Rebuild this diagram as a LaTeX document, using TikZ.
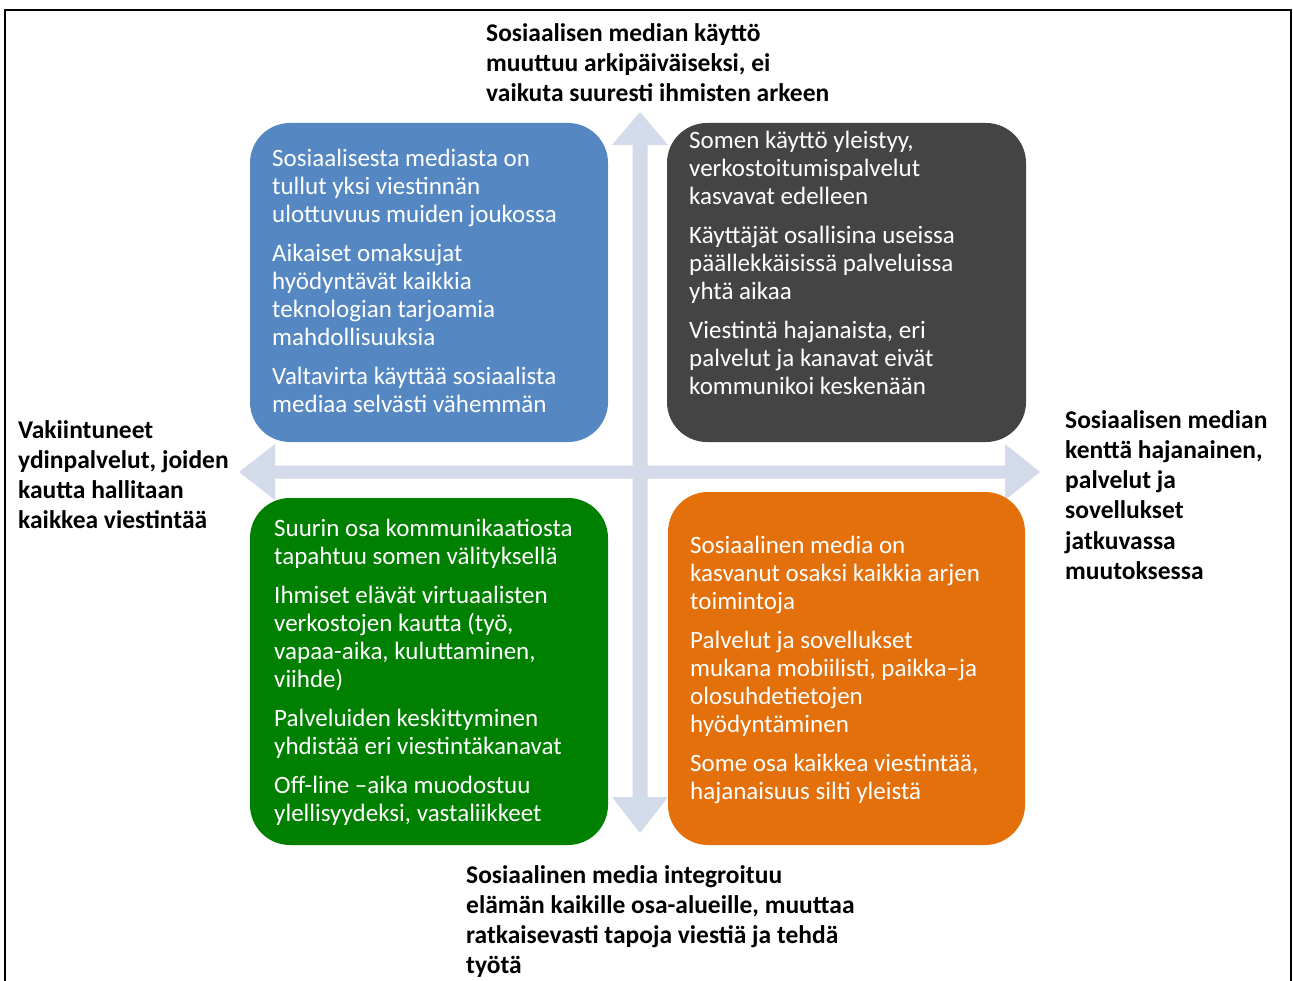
\documentclass[tikz,border=0pt]{standalone}
\usepackage{fontspec}
\setmainfont{Carlito}
\definecolor{axisblue}{RGB}{211,218,234}
\definecolor{qblue}{RGB}{85,136,194}
\definecolor{qgrey}{RGB}{68,68,68}
\definecolor{qgreen}{RGB}{0,128,0}
\definecolor{qorange}{RGB}{228,112,12}
\begin{document}
\begin{tikzpicture}[x=1pt,y=-1pt,
  quad/.style={rounded corners=40pt},
  boxtext/.style={anchor=north west, inner sep=0pt, align=left, text=white,
    font=\fontsize{25}{28}\selectfont},
  axislabel/.style={anchor=north west, inner sep=0pt, align=left,
    font=\bfseries\fontsize{25.5}{30.3}\selectfont},
  axisarrow/.style={fill=axisblue}]
\clip (0,0) rectangle (1293,981);
\fill[white] (0,0) rectangle (1293,981);
\draw[line width=2pt] (5,10) rectangle (1291,1000);
% axes
\fill[axisblue] (640,112) -- (668,145) -- (647.5,145) -- (647.5,797) -- (668,797)
  -- (640,833) -- (612,797) -- (632.5,797) -- (632.5,145) -- (612,145) -- cycle;
\fill[axisblue] (239,472) -- (275,444) -- (275,465.5) -- (1005,465.5) -- (1005,444)
  -- (1040,472) -- (1005,500) -- (1005,478.5) -- (275,478.5) -- (275,500) -- cycle;
% quadrants
\fill[qblue, quad] (250,123) rectangle (608,442);
\fill[qgrey, quad] (667,123) rectangle (1026,442);
\fill[qgreen, quad] (250,498) rectangle (608,845);
\fill[qorange, quad] (668,492) rectangle (1025,845);
% texts
\node[boxtext] (tblue) at (272,148.5) {Sosiaalisesta mediasta on\\tullut yksi viestinnän\\ulottuvuus muiden joukossa\\[11pt]Aikaiset omaksujat\\hyödyntävät kaikkia\\teknologian tarjoamia\\mahdollisuuksia\\[11pt]Valtavirta käyttää sosiaalista\\mediaa selvästi vähemmän};
\node[boxtext] (tgrey) at (689,131) {Somen käyttö yleistyy,\\verkostoitumispalvelut\\kasvavat edelleen\\[11pt]Käyttäjät osallisina useissa\\päällekkäisissä palveluissa\\yhtä aikaa\\[11pt]Viestintä hajanaista, eri\\palvelut ja kanavat eivät\\kommunikoi keskenään};
\node[boxtext] (tgreen) at (274,519) {Suurin osa kommunikaatiosta\\tapahtuu somen välityksellä\\[11pt]Ihmiset elävät virtuaalisten\\verkostojen kautta (työ,\\vapaa-aika, kuluttaminen,\\viihde)\\[11pt]Palveluiden keskittyminen\\yhdistää eri viestintäkanavat\\[11pt]Off-line –aika muodostuu\\ylellisyydeksi, vastaliikkeet};
\node[boxtext] (torange) at (690,535.5) {Sosiaalinen media on\\kasvanut osaksi kaikkia arjen\\toimintoja\\[11pt]Palvelut ja sovellukset\\mukana mobiilisti, paikka–ja\\olosuhdetietojen\\hyödyntäminen\\[11pt]Some osa kaikkea viestintää,\\hajanaisuus silti yleistä};
% axis labels
\node[axislabel] (ltop) at (486,23) {Sosiaalisen median käyttö\\muuttuu arkipäiväiseksi, ei\\vaikuta suuresti ihmisten arkeen};
\node[axislabel] (lleft) at (18,420) {Vakiintuneet\\ydinpalvelut, joiden\\kautta hallitaan\\kaikkea viestintää};
\node[axislabel] (lright) at (1065,410) {Sosiaalisen median\\kenttä hajanainen,\\palvelut ja\\sovellukset\\jatkuvassa\\muutoksessa};
\node[axislabel] (lbottom) at (466,865) {Sosiaalinen media integroituu\\elämän kaikille osa-alueille, muuttaa\\ratkaisevasti tapoja viestiä ja tehdä\\työtä};
\end{tikzpicture}
\end{document}
